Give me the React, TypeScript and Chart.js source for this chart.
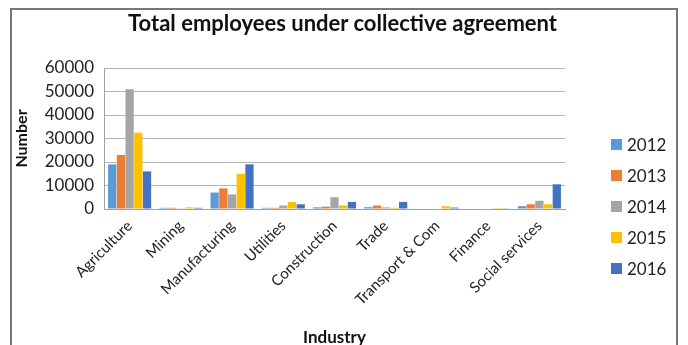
import React, { useEffect, useRef } from "react";
import { Chart, registerables } from "chart.js";

Chart.register(...registerables);

const categories = [
  "Agriculture",
  "Mining",
  "Manufacturing",
  "Utilities",
  "Construction",
  "Trade",
  "Transport & Com",
  "Finance",
  "Social services",
];
const years = ["2012", "2013", "2014", "2015", "2016"];
const v2012 = [19000, 500, 7000, 500, 700, 800, 200, 200, 1200];
const v2013 = [23000, 500, 8800, 500, 1000, 1500, 200, 200, 2000];
const v2014 = [51000, 300, 6200, 1500, 5000, 700, 200, 200, 3500];
const v2015 = [32500, 700, 15000, 3000, 1500, 500, 1200, 400, 2000];
const v2016 = [16000, 500, 19000, 2000, 3000, 3000, 600, 300, 10500];
const colors = ["#5B9BD5", "#ED7D31", "#A5A5A5", "#FFC000", "#4472C4"];
const yTicksMax = 60000;
const yStep = 10000;
const chartTitle = "Total employees under collective agreement";

const FONT = "Lato, 'Open Sans', sans-serif";

export default function App() {
  const ref = useRef<HTMLCanvasElement | null>(null);
  useEffect(() => {
    if (!ref.current) return;
    const series = [v2012, v2013, v2014, v2015, v2016];
    const chart = new Chart(ref.current, {
      type: "bar",
      data: {
        labels: categories,
        datasets: years.map((y, i) => ({
          label: y,
          data: series[i],
          backgroundColor: colors[i],
          borderColor: colors[i],
          borderWidth: 0,
          categoryPercentage: 0.85,
          barPercentage: 0.95,
        })),
      },
      options: {
        responsive: false,
        animation: false,
        layout: { padding: { top: 68, right: 123, bottom: 0, left: 12 } },
        plugins: {
          legend: { display: false },
          tooltip: { enabled: false },
          title: { display: false },
        },
        scales: {
          x: {
            grid: { display: false },
            border: { display: true, color: "#A0A0A0" },
            afterFit: (s: any) => {
              s.height = 136;
            },
            ticks: {
              color: "#222",
              font: { family: FONT, size: 15 },
              maxRotation: 45,
              minRotation: 45,
              autoSkip: false,
              padding: 0,
            },
            title: {
              display: true,
              text: "Industry",
              color: "#111",
              font: { family: FONT, size: 17, weight: "bold" },
              padding: { top: 0, bottom: -3 },
            },
          },
          y: {
            min: 0,
            max: yTicksMax,
            grid: { color: "#B4B4B4", drawTicks: false },
            border: { display: true, color: "#A0A0A0" },
            afterFit: (s: any) => {
              s.width = 92;
            },
            ticks: {
              stepSize: yStep,
              color: "#222",
              font: { family: FONT, size: 17 },
              padding: 10,
              callback: (v: any) => String(v),
            },
            title: {
              display: true,
              text: "Number",
              color: "#111",
              font: { family: FONT, size: 16, weight: "bold" },
              padding: { top: 0, bottom: 2 },
            },
          },
        },
      },
    });
    return () => chart.destroy();
  }, []);

  return (
    <div style={{ position: "absolute", left: 0, top: 0, width: 688, height: 345, background: "#fff", overflow: "hidden" }}>
      <div
        style={{
          position: "absolute",
          left: 10,
          top: 8,
          width: 668,
          height: 360,
          border: "2px solid #777",
          boxSizing: "border-box",
        }}
      />
      <canvas ref={ref} width={688} height={345} style={{ position: "absolute", left: 0, top: 0 }} />
      <div
        style={{
          position: "absolute",
          left: 128,
          width: 400,
          top: 9,
          textAlign: "center",
          whiteSpace: "nowrap",
          fontFamily: FONT,
          fontSize: 22,
          fontWeight: "bold",
          color: "#111",
          lineHeight: "28px",
        }}
      >
        {chartTitle}
      </div>
      <div style={{ position: "absolute", left: 611, top: 128.5, fontFamily: FONT, fontSize: 17, color: "#222" }}>
        {years.map((y, i) => (
          <div key={y} style={{ display: "flex", alignItems: "center", height: 31 }}>
            <span style={{ display: "inline-block", width: 11, height: 11, background: colors[i], marginRight: 5 }} />
            <span>{y}</span>
          </div>
        ))}
      </div>
    </div>
  );
}
